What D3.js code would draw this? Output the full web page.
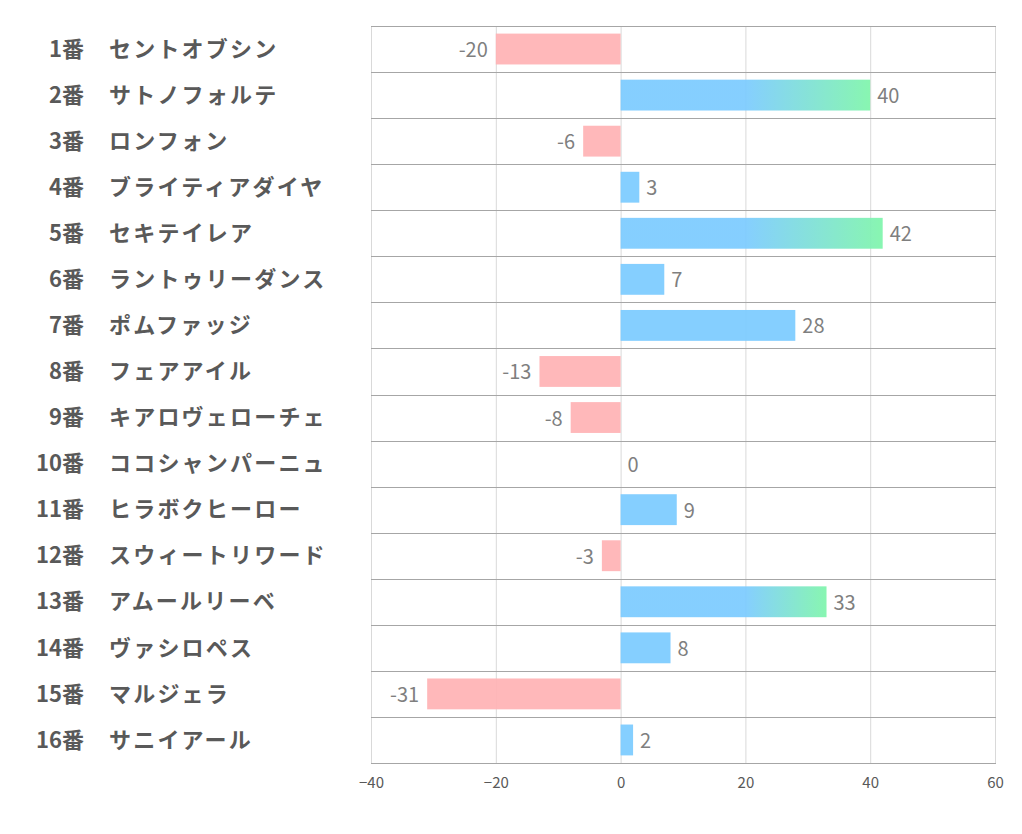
<!DOCTYPE html>
<html><head><meta charset="utf-8">
<script src="https://cdn.jsdelivr.net/npm/d3@7"></script>
<style>body{margin:0;background:#fff;} svg{display:block;}</style>
</head><body>
<svg id="c" width="1022" height="834"></svg>
<script>
const numbers = ["1番","2番","3番","4番","5番","6番","7番","8番","9番","10番","11番","12番","13番","14番","15番","16番"];
const names = ["セントオブシン","サトノフォルテ","ロンフォン","ブライティアダイヤ","セキテイレア","ラントゥリーダンス","ポムファッジ","フェアアイル","キアロヴェローチェ","ココシャンパーニュ","ヒラボクヒーロー","スウィートリワード","アムールリーベ","ヴァシロペス","マルジェラ","サニイアール"];
const values = [-20,40,-6,3,42,7,28,-13,-8,0,9,-3,33,8,-31,2];
const ticks = [-40,-20,0,20,40,60];

const svg = d3.select("#c");
const L=371,R=995,T=26,B=763;
const x = d3.scaleLinear().domain([-40,60]).range([L,R]);
const y = d3.scaleBand().domain(d3.range(values.length)).range([T,B]).paddingInner(0.33).paddingOuter(0.165);
const rows = d3.scaleBand().domain(d3.range(values.length)).range([T,B]);

const font = "'Noto Sans CJK JP','Noto Sans',sans-serif";
const defs = svg.append("defs");

// vertical gridlines
svg.append("g").selectAll("line").data(ticks).join("line")
  .attr("x1",d=>x(d)+0.5).attr("x2",d=>x(d)+0.5).attr("y1",T).attr("y2",B)
  .attr("stroke","#d9d9d9").attr("stroke-width",1);
// horizontal separators
svg.append("g").selectAll("line").data(d3.range(values.length+1)).join("line")
  .attr("x1",L).attr("x2",R+1)
  .attr("y1",d=>Math.round(T+d*rows.step())+0.5).attr("y2",d=>Math.round(T+d*rows.step())+0.5)
  .attr("stroke","#a6a6a6").attr("stroke-width",1);

// gradients for the long bars
values.forEach((v,i)=>{
  if(v>30){
    const g = defs.append("linearGradient").attr("id","g"+i).attr("gradientUnits","userSpaceOnUse")
      .attr("x1",x(20)).attr("x2",x(v)).attr("y1",0).attr("y2",0);
    g.append("stop").attr("offset","0%").attr("stop-color","#7ccbff");
    g.append("stop").attr("offset","100%").attr("stop-color","#7ff5ab");
  }
});

svg.append("g").selectAll("rect").data(values).join("rect")
  .attr("x",d=>x(Math.min(0,d)))
  .attr("width",d=>Math.abs(x(d)-x(0)))
  .attr("y",(d,i)=>y(i)).attr("height",y.bandwidth())
  .attr("fill",(d,i)=>d<0?"#ffb3b5":(d>30?`url(#g${i})`:"#7ccbff"))
  .attr("fill-opacity",0.93);

// value labels
svg.append("g").selectAll("text").data(values).join("text")
  .attr("x",d=>d<0?x(d)-8:x(d)+7)
  .attr("y",(d,i)=>rows(i)+rows.bandwidth()/2+1)
  .attr("dy","0.35em")
  .attr("text-anchor",d=>d<0?"end":"start")
  .attr("font-family",font).attr("font-size",20).attr("fill","#7f7f7f")
  .text(d=>d);

// category labels
const lab = svg.append("g");
lab.selectAll("text.n").data(numbers).join("text").attr("class","n")
  .attr("x",84).attr("y",(d,i)=>rows(i)+rows.bandwidth()/2)
  .attr("dy","0.35em").attr("text-anchor","end")
  .attr("font-family",font).attr("font-weight","bold").attr("font-size",22).attr("fill","#595959")
  .text(d=>d);
lab.selectAll("text.m").data(names).join("text").attr("class","m")
  .attr("x",109).attr("y",(d,i)=>rows(i)+rows.bandwidth()/2)
  .attr("dy","0.35em").attr("text-anchor","start")
  .attr("font-family",font).attr("font-weight","bold").attr("font-size",22).attr("letter-spacing",2.2).attr("fill","#595959")
  .text(d=>d);

// x axis
const ax = svg.append("g").attr("transform",`translate(0,${B})`)
  .call(d3.axisBottom(x).tickValues(ticks).tickSize(0).tickPadding(14));
ax.select(".domain").remove();
ax.selectAll("text").attr("font-family",font).attr("font-size",15).attr("fill","#595959");
</script>
</body></html>
